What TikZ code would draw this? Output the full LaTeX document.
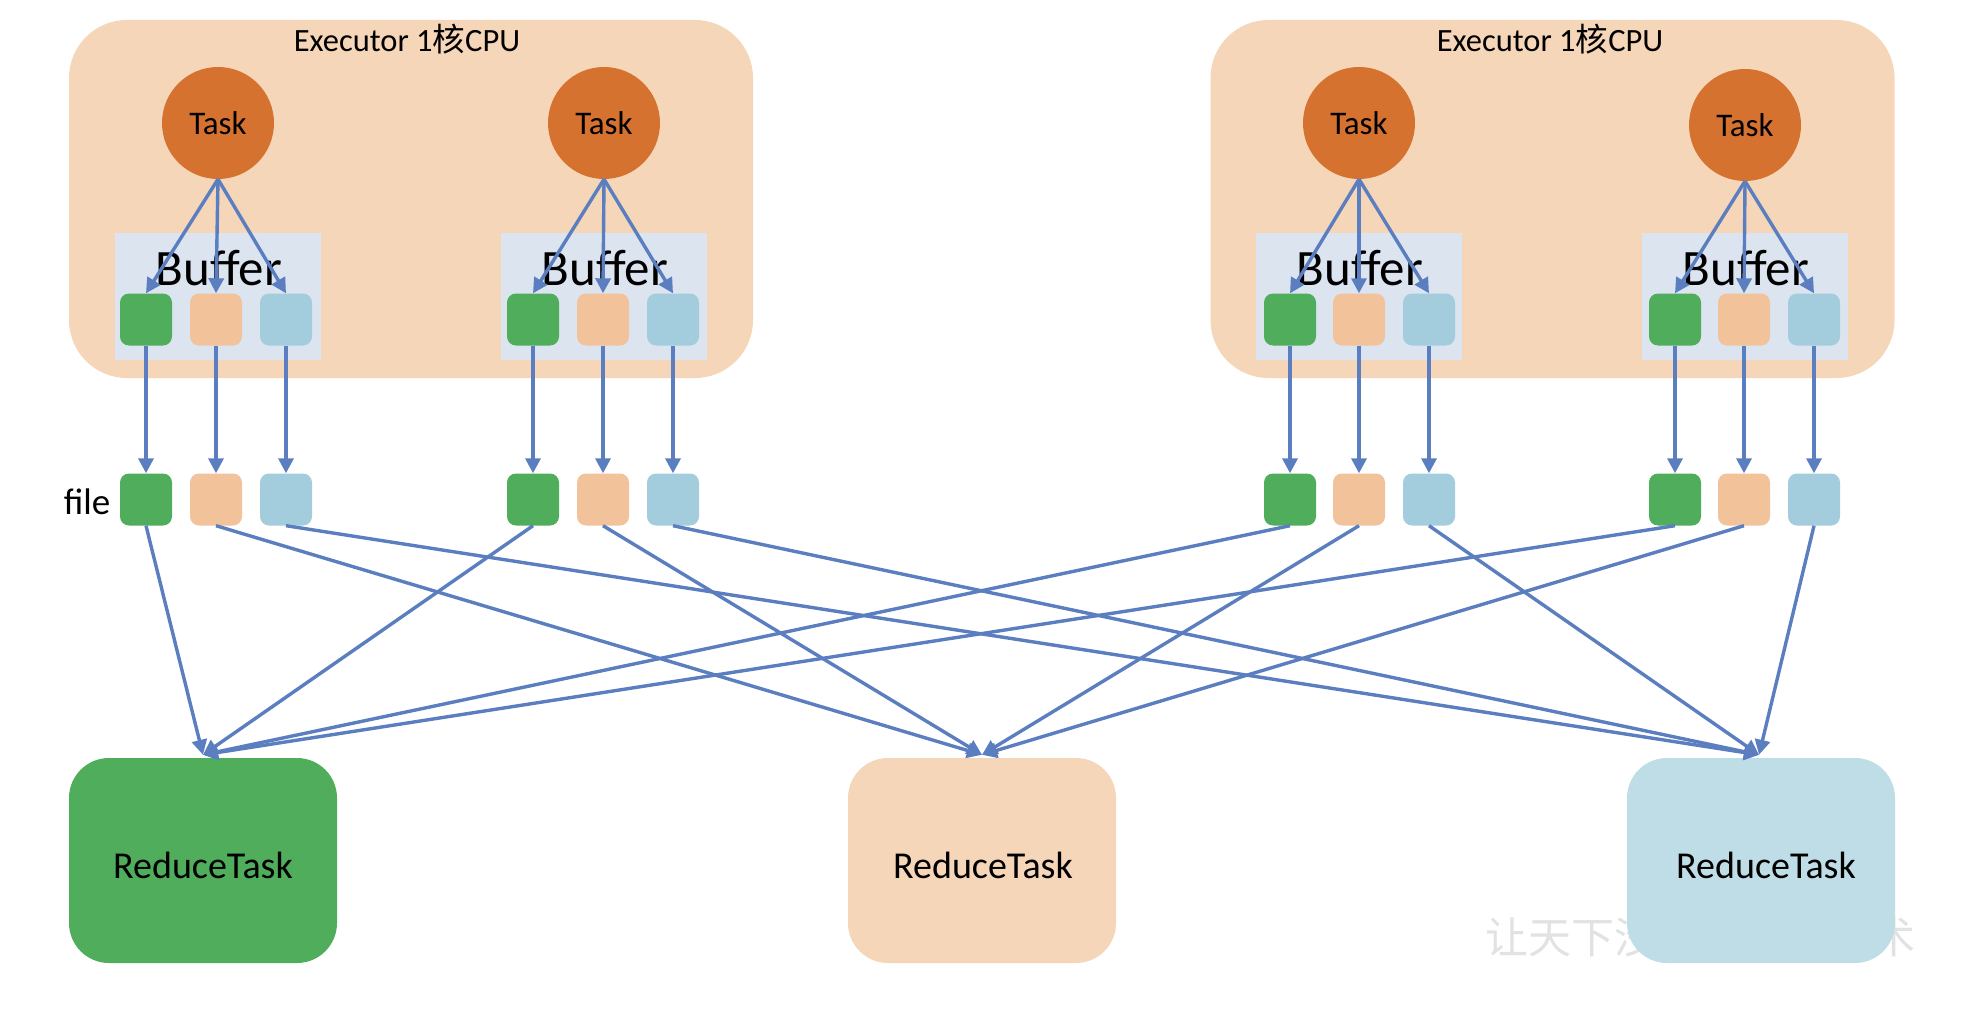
\documentclass[tikz,border=0pt]{standalone}
\usepackage{fontspec}
\setmainfont{Carlito}
\newfontfamily\cjk{Noto Sans CJK SC}
\usetikzlibrary{arrows.meta}

\definecolor{execfill}{HTML}{F5D6B8}
\definecolor{buffill}{HTML}{DCE4F0}
\definecolor{taskfill}{HTML}{D6722F}
\definecolor{pgreen}{HTML}{4FAD5B}
\definecolor{porange}{HTML}{F2C29A}
\definecolor{pblue}{HTML}{A3CDDC}
\definecolor{rorange}{HTML}{F5D6B8}
\definecolor{rblue}{HTML}{BEDDE6}
\definecolor{flow}{HTML}{5A7EBF}
\definecolor{wmark}{HTML}{E2E2E2}

\tikzset{
  executor/.style={fill=execfill, draw=none, rounded corners=58pt,
    minimum width=684pt, minimum height=358pt, inner sep=0pt},
  execlabel/.style={font=\fontsize{32.5}{36}\selectfont, inner sep=0pt},
  task/.style={circle, fill=taskfill, draw=none, minimum size=112pt, inner sep=0pt,
    font=\fontsize{33}{38}\selectfont},
  bufbox/.style={fill=buffill, draw=none, minimum width=206pt, minimum height=127pt, inner sep=0pt},
  buftext/.style={font=\fontsize{51}{56}\selectfont, inner sep=0pt, anchor=base},
  part/.style={draw=none, rounded corners=9pt, minimum width=52pt, minimum height=52pt, inner sep=0pt},
  reduce/.style={draw=none, rounded corners=40pt, minimum width=268pt, minimum height=205pt,
    inner sep=0pt},
  reducetext/.style={font=\fontsize{38}{42}\selectfont, inner sep=0pt},
  flowline/.style={draw=flow, line width=3.4pt, -{Triangle[length=15pt,width=15pt]}},
}

\begin{document}
\begin{tikzpicture}[x=1pt,y=-1pt]
\useasboundingbox (0,0) rectangle (1964,1016);
\fill[white] (0,0) rectangle (1964,1016);

% executors
\node[executor] (exA) at (411,199) {};
\node[executor] (exB) at (1552.5,199) {};
\node[execlabel] (exAlab) at (407,39) {Executor 1{\cjk 核}CPU};
\node[execlabel] (exBlab) at (1550,39) {Executor 1{\cjk 核}CPU};

% buffers, tasks and partitions: name / task x / task y / three partition x
\foreach \g/\tx/\ty/\xa/\xb/\xc in {1/218/123/146/216/286, 2/604/123/533/603/673,
                                     3/1359/123/1290/1359/1429, 4/1745/125/1675/1744/1814}{
  \node[bufbox] (buf\g) at (\tx,296.5) {};
  \node[buftext] (buftxt\g) at (\tx+1,286) {Buffer};
  \node[task] (task\g) at (\tx,\ty) {Task};
  \node[part, fill=pgreen]  (bg\g) at (\xa,319.5) {};
  \node[part, fill=porange] (bo\g) at (\xb,319.5) {};
  \node[part, fill=pblue]   (bb\g) at (\xc,319.5) {};
  \node[part, fill=pgreen]  (fg\g) at (\xa,499.5) {};
  \node[part, fill=porange] (fo\g) at (\xb,499.5) {};
  \node[part, fill=pblue]   (fb\g) at (\xc,499.5) {};
}
\node[font=\fontsize{37}{42}\selectfont, inner sep=0pt] (filelab) at (87,502) {file};

% watermark
\node[font=\cjk\fontsize{43}{48}\selectfont, text=wmark, inner sep=0pt] (wm) at (1700,937) {让天下没有难学的技术};

% reduce tasks
\node[reduce, fill=pgreen]  (rg) at (203,860.5) {};
\node[reduce, fill=rorange] (ro) at (982,860.5) {};
\node[reduce, fill=rblue]   (rb) at (1761,860.5) {};
\node[reducetext] (rgt) at (203,865) {ReduceTask};
\node[reducetext] (rot) at (983,865) {ReduceTask};
\node[reducetext] (rbt) at (1766,865) {ReduceTask};

% task -> buffer partitions, buffer -> spill file
\foreach \g in {1,2,3,4}{
  \foreach \p in {g,o,b}{
    \draw[flowline] (task\g.south) -- (b\p\g.north);
    \draw[flowline] (b\p\g.south) -- (f\p\g.north);
  }
}

% spill files -> reduce tasks
\foreach \g in {1,2,3,4}{
  \draw[flowline] (fg\g.south) -- ([yshift=3pt]rg.north);
  \draw[flowline] (fo\g.south) -- ([yshift=3pt]ro.north);
  \draw[flowline] (fb\g.south) -- ([yshift=3pt,xshift=-2pt]rb.north);
}
\end{tikzpicture}
\end{document}
